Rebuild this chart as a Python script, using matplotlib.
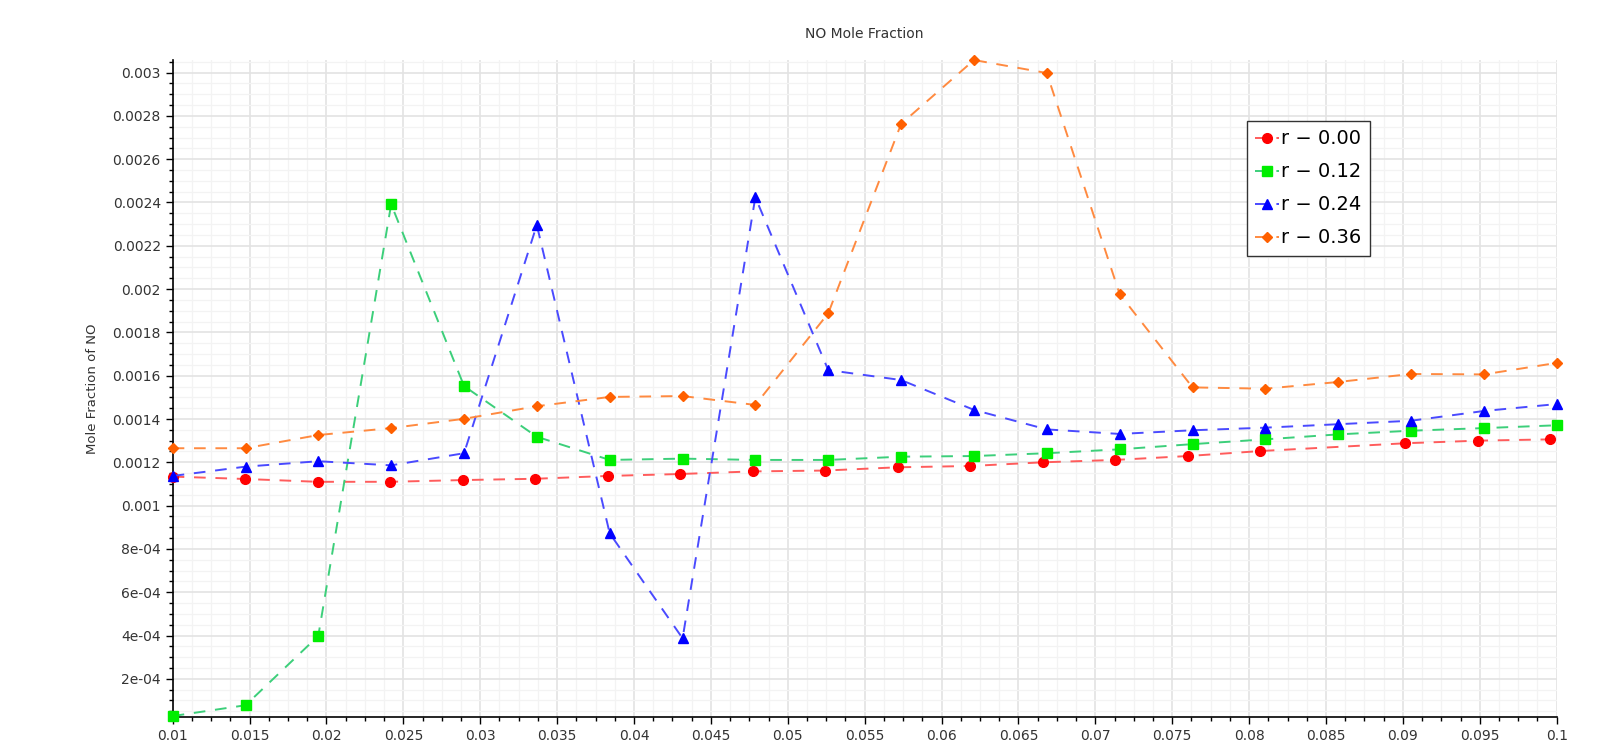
import matplotlib
matplotlib.use("Agg")
import matplotlib.pyplot as plt
from matplotlib.ticker import MultipleLocator, FuncFormatter

# Data
x_pos = [0.01, 0.01474, 0.01947, 0.02421, 0.02895, 0.03368, 0.03842, 0.04316, 0.04789, 0.05263,
         0.05737, 0.06211, 0.06684, 0.07158, 0.07632, 0.08105, 0.08579, 0.09053, 0.09526, 0.1]

# r = 0.00 has one point fewer and slightly tighter spacing
x_r000 = [0.01, 0.01472, 0.01943, 0.02415, 0.02886, 0.03358, 0.03829, 0.04301, 0.04772, 0.05244,
          0.05715, 0.06187, 0.06658, 0.0713, 0.07601, 0.08073, 0.09016, 0.09488, 0.09959]
y_r000 = [0.001134, 0.001123, 0.00111, 0.00111, 0.001118, 0.001124, 0.001137, 0.001146, 0.001158,
          0.001162, 0.001177, 0.001183, 0.0012, 0.001211, 0.001229, 0.001252, 0.001288, 0.0013, 0.001306]

y_r012 = [0.000028, 0.000078, 0.000398, 0.002392, 0.001552, 0.001318, 0.001211, 0.001217, 0.001211,
          0.001211, 0.001226, 0.001229, 0.001242, 0.00126, 0.001284, 0.001306, 0.001329, 0.001346,
          0.001358, 0.001371]

y_r024 = [0.001137, 0.00118, 0.001205, 0.001186, 0.001242, 0.002296, 0.000872, 0.000387, 0.002424,
          0.001626, 0.00158, 0.001442, 0.001352, 0.001331, 0.001348, 0.00136, 0.001376, 0.001392,
          0.001437, 0.001469]

y_r036 = [0.001265, 0.001265, 0.001326, 0.001358, 0.001401, 0.001459, 0.001502, 0.001506, 0.001465,
          0.001888, 0.002763, 0.003058, 0.002998, 0.001977, 0.001546, 0.00154, 0.001571, 0.001608,
          0.001606, 0.001659]

labels = ["r \u2212 0.00", "r \u2212 0.12", "r \u2212 0.24", "r \u2212 0.36"]

series = [
    (x_r000, y_r000, "#ff5c5c", "#ff0000", "o", 7.0),
    (x_pos, y_r012, "#3ccf7a", "#00ee00", "s", 6.5),
    (x_pos, y_r024, "#4a4aff", "#0000ff", "^", 7.0),
    (x_pos, y_r036, "#ff8a40", "#ff6000", "D", 5.0),
]

fig = plt.figure(figsize=(16.15, 7.55), dpi=100)
ax = fig.add_axes([0.1069, 0.0507, 0.857, 0.8698])

for (xs, ys, lc, mc, mk, ms), lab in zip(series, labels):
    ax.plot(xs, ys, color=lc, lw=1.4, linestyle=(0, (6, 5)), marker=mk, markersize=ms,
            markerfacecolor=mc, markeredgecolor=mc, label=lab, clip_on=False, zorder=3)

all_y = y_r000 + y_r012 + y_r024 + y_r036
ax.set_xlim(0.01, 0.1)
ax.set_ylim(min(all_y) - 0.000003, max(all_y))

ax.xaxis.set_major_locator(MultipleLocator(0.005))
ax.xaxis.set_minor_locator(MultipleLocator(0.00125))
ax.yaxis.set_major_locator(MultipleLocator(0.0002))
ax.yaxis.set_minor_locator(MultipleLocator(0.00005))

ax.xaxis.set_major_formatter(FuncFormatter(lambda v, p: f"{v:g}"))
ax.yaxis.set_major_formatter(FuncFormatter(
    lambda v, p: f"{v:.0e}" if v < 0.00099 else f"{round(v, 5):g}"))

ax.grid(which="major", color="#e3e3e3", lw=1.2)
ax.grid(which="minor", color="#f3f3f3", lw=0.9)
ax.set_axisbelow(True)

for s in ["top", "right"]:
    ax.spines[s].set_visible(False)
for s in ["left", "bottom"]:
    ax.spines[s].set_color("black")
    ax.spines[s].set_linewidth(1.2)

ax.tick_params(which="major", length=5, width=1, color="black", labelsize=10,
               labelcolor="#333333", direction="out")
ax.tick_params(which="minor", length=3, width=1, color="black")

ax.set_ylabel("Mole Fraction of NO", fontsize=9.5, color="#333333", labelpad=10)
ax.set_title("NO Mole Fraction", fontsize=10, color="#333333", pad=16)

leg = ax.legend(loc="upper left", bbox_to_anchor=(0.776, 0.9076), borderaxespad=0,
                fontsize=14, frameon=True, fancybox=False, framealpha=1,
                handlelength=1.2, handletextpad=0.1, labelspacing=0.72, borderpad=0.45)
leg.get_frame().set_edgecolor("#333333")
leg.get_frame().set_linewidth(1.0)

fig.savefig("out.png", dpi=100)
